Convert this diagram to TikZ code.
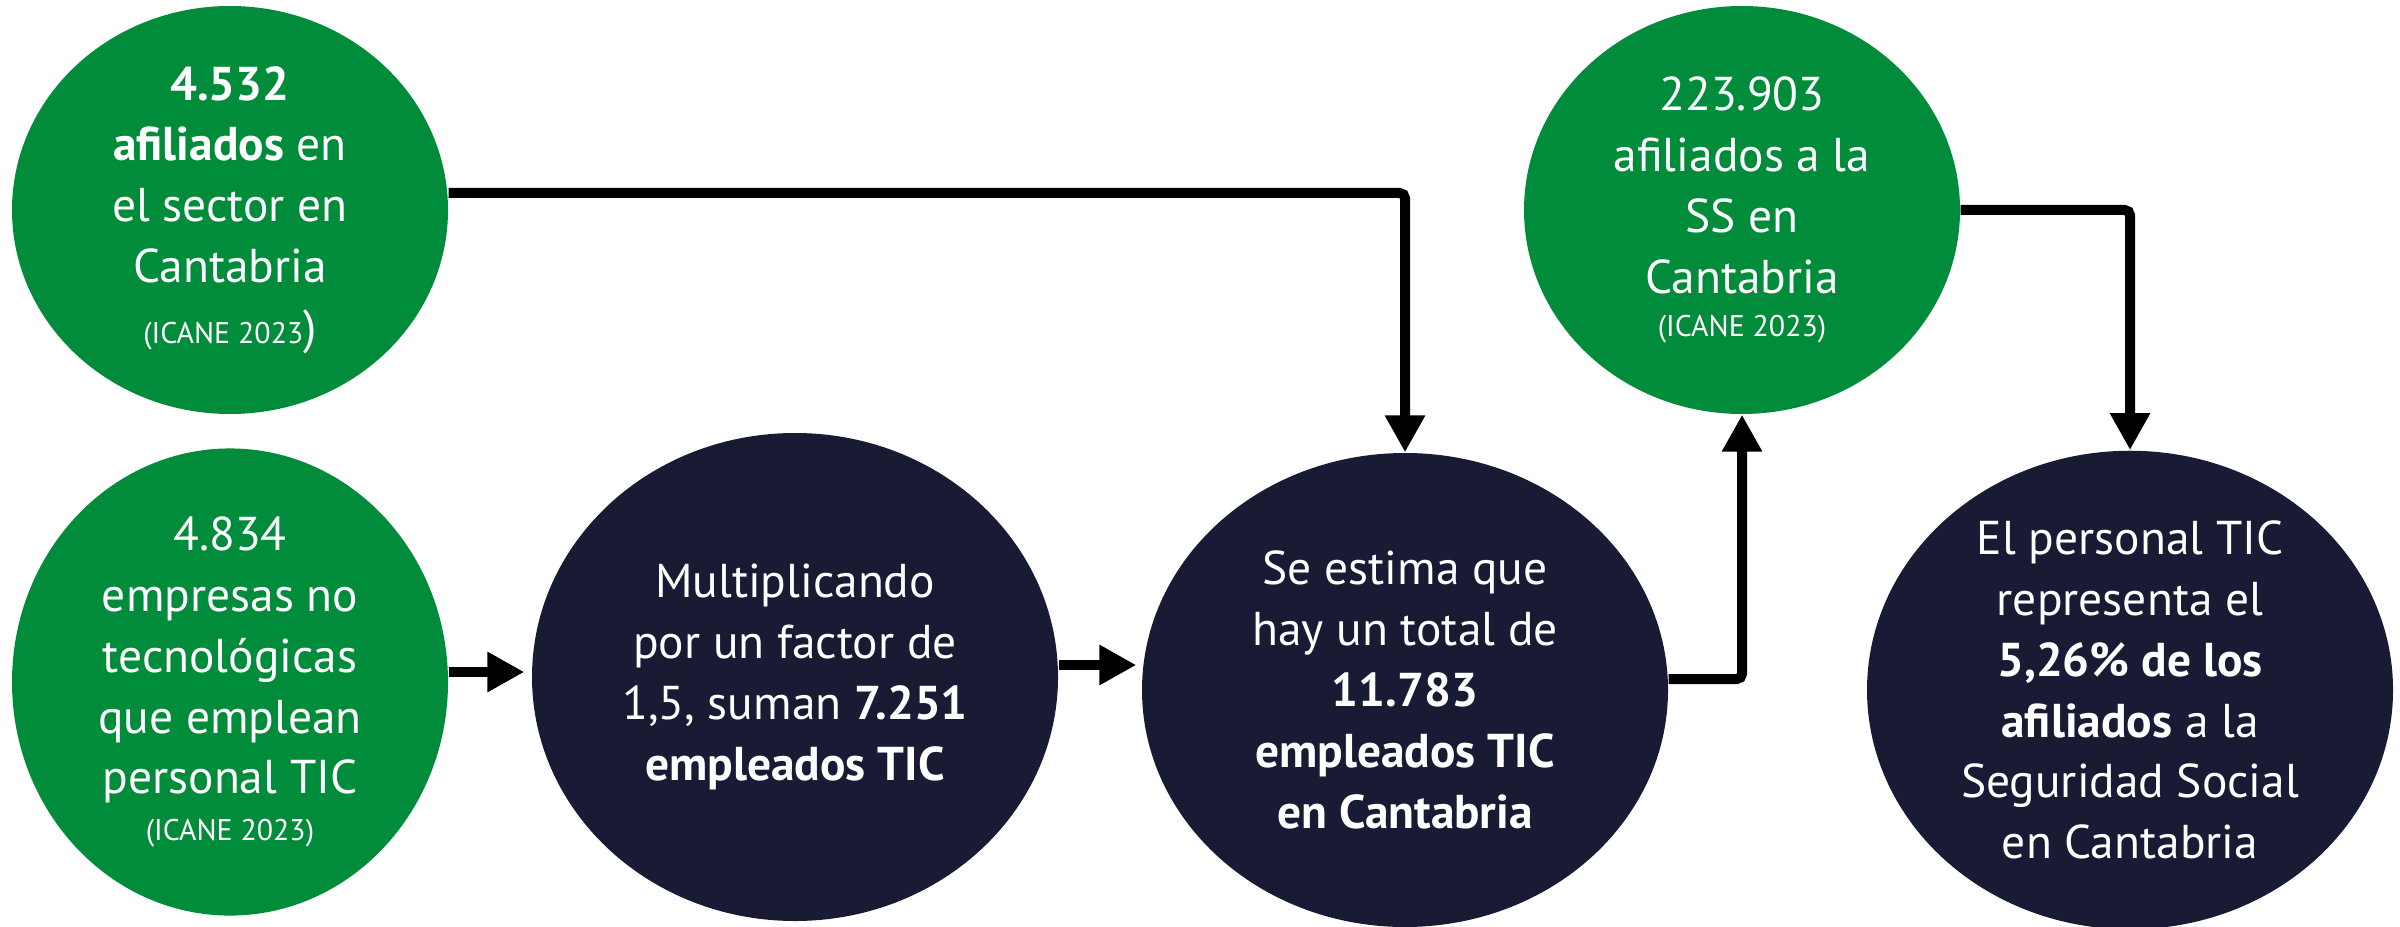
\documentclass[tikz,border=0pt]{standalone}
\usepackage{fontspec}
\setmainfont{PT Sans}
\usetikzlibrary{shapes.geometric,arrows.meta}
\definecolor{verdecan}{RGB}{0,140,58}
\definecolor{azulosc}{RGB}{24,27,51}
\newcommand{\fuente}{\fontsize{8.5}{10}\selectfont}

\begin{document}
\begin{tikzpicture}[node distance = 2cm, auto]
\useasboundingbox (0,0) rectangle (24,9.26);
{
	\tikzstyle{verde} = [ellipse, minimum width=4.36cm, minimum height=4.08cm, inner sep=0pt, fill=verdecan, text=white, align=center, font=\fontsize{13.5}{17.3}\selectfont]
	\tikzstyle{oscuro} = [ellipse, minimum width=5.26cm, minimum height=4.74cm, inner sep=0pt, fill=azulosc, text=white, align=center, font=\fontsize{13.5}{17.3}\selectfont]
	\tikzstyle{flecha} = [line width=0.1cm, rounded corners=1.5pt, -{Triangle[length=0.37cm,width=0.38cm]}]

	\node (afil) [verde] at (2.3,7.16) {\textbf{4.532}\\ \textbf{afiliados} en\\ el sector en\\ Cantabria\\ {\fuente (ICANE 2023})};
	\node (empr) [verde, below of=afil, yshift=-2.72cm] {4.834\\ empresas no\\ tecnológicas\\ que emplean\\ personal TIC\\[-4pt] {\fuente (ICANE 2023)}};
	\node (mult) [oscuro, minimum height=4.88cm, right of=empr, xshift=3.65cm, yshift=0.05cm] {Multiplicando\\ por un factor de\\ 1,5, suman \textbf{7.251}\\ \textbf{empleados TIC}};
	\node (total) [oscuro, right of=mult, xshift=4.1cm, yshift=-0.13cm] {Se estima que\\ hay un total de\\ \textbf{11.783}\\ \textbf{empleados TIC}\\ \textbf{en Cantabria}};
	\node (ss) [verde, right of=afil, xshift=13.12cm] {223.903\\ afiliados a la\\ SS en\\ Cantabria\\[-5pt] {\fuente (ICANE 2023)}};
	\node (pct) [oscuro, right of=total, xshift=5.25cm] {El personal TIC\\ representa el\\ \textbf{5,26\% de los}\\ \textbf{afiliados} a la\\ Seguridad Social\\ en Cantabria};
	\draw [flecha]([yshift=0.17cm]afil.east) -| (total.north);
	\draw [flecha, shorten >=0.07cm]([yshift=0.1cm]empr.east) -- ([yshift=0.1cm]empr.east -| mult.west);
	\draw [flecha, shorten >=0.05cm]([yshift=0.12cm]mult.east) -- ([yshift=0.12cm]mult.east -| total.west);
	\draw [flecha]([yshift=0.11cm]total.east) -| (ss.south);
	\draw [flecha](ss.east) -| (pct.north);
	}
\end{tikzpicture}
\end{document}
